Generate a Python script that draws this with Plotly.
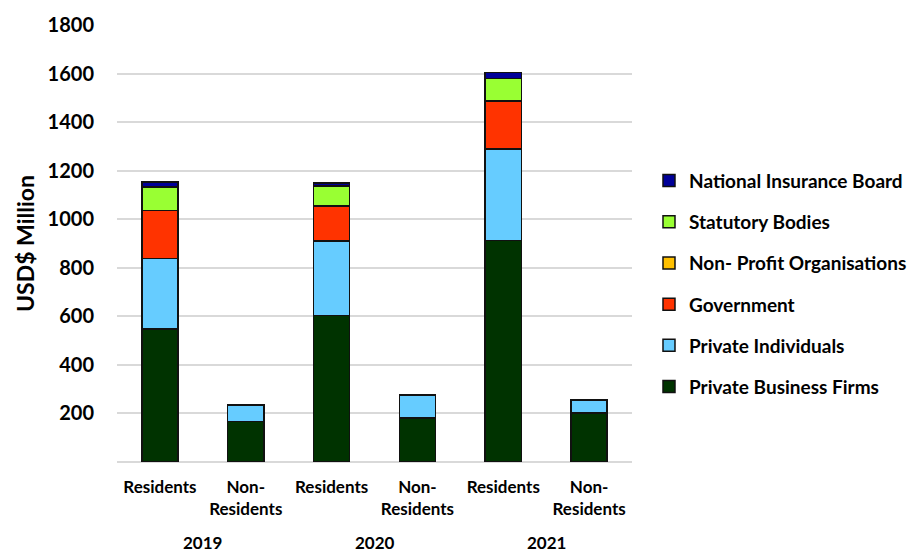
import plotly.graph_objects as go

# Foreign direct investment liabilities by holder sector (USD$ Million)
years = ["2019", "2020", "2021"]
holders = ["Residents", "Non-<br>Residents"]
x_labels = [h for _ in years for h in holders]
x_pos = list(range(len(x_labels)))

private_business_firms = [547, 167, 603, 181, 912, 201]
private_individuals = [292, 67, 307, 93, 378, 54]
government = [197, 0, 145, 0, 197, 0]
non_profit = [0, 3, 0, 5, 0, 3]
statutory_bodies = [96, 0, 82, 0, 92, 0]
national_insurance = [22, 0, 13, 0, 25, 0]

series = [
    ("Private Business Firms", private_business_firms, "#003300"),
    ("Private Individuals", private_individuals, "#66ccff"),
    ("Government", government, "#ff3300"),
    ("Non- Profit Organisations", non_profit, "#ffc000"),
    ("Statutory Bodies", statutory_bodies, "#99ff33"),
    ("National Insurance Board", national_insurance, "#000099"),
]

font_family = "Lato, 'Open Sans', Arial, sans-serif"

fig = go.Figure()
for i, (name, vals, color) in enumerate(series):
    fig.add_trace(go.Bar(
        x=x_pos, y=vals, name=name, legendgroup=f"g{i}",
        legendrank=1000 - i,
        marker=dict(color=color, line=dict(color="#111111", width=1.5)),
    ))

for j, yr in enumerate(years):
    fig.add_annotation(
        x=2 * j + 0.5, y=-0.185, xref="x", yref="paper",
        text=f"<b>{yr}</b>", showarrow=False,
        font=dict(family=font_family, size=17, color="#000000"),
        yanchor="middle",
    )

fig.update_layout(
    width=914, height=552,
    margin=dict(l=117, r=282, t=25, b=90, autoexpand=False),
    paper_bgcolor="white", plot_bgcolor="white",
    barmode="stack", bargap=0.58,
    font=dict(family=font_family, color="#000000"),
    showlegend=True,
    legend=dict(
        traceorder="grouped", tracegroupgap=13.5,
        x=1.033, xanchor="left", y=0.408, yanchor="middle",
        font=dict(family=font_family, size=19, color="#000000", weight="bold"),
        itemwidth=30,
    ),
    xaxis=dict(
        range=[-0.5, 5.5],
        tickmode="array", tickvals=x_pos, ticktext=[f"<b>{t}</b>" for t in x_labels],
        tickfont=dict(family=font_family, size=17),
        showgrid=False, zeroline=False,
        showline=False, ticks="", ticklabelstandoff=13,
    ),
    yaxis=dict(
        range=[0, 1800], tickvals=[200, 400, 600, 800, 1000, 1200, 1400, 1600, 1800],
        tickfont=dict(family=font_family, size=20, weight="bold"),
        showgrid=True, gridcolor="#d9d9d9", gridwidth=1.5,
        zeroline=True, zerolinecolor="#d9d9d9", zerolinewidth=1.5,
        ticklabelstandoff=22,
        title=dict(text="<b>USD$ Million</b>", font=dict(family=font_family, size=23), standoff=6),
    ),
)

fig.write_html("out.html")
